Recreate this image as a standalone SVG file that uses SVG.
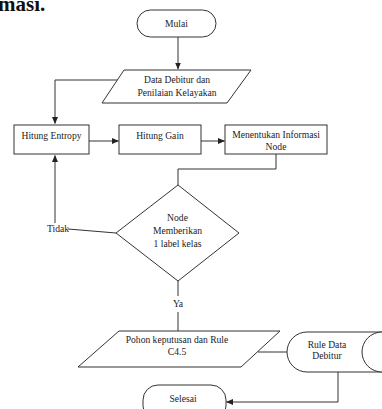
<svg xmlns="http://www.w3.org/2000/svg" width="382" height="409" viewBox="0 0 382 409">
<defs>
<marker id="ah" markerWidth="7" markerHeight="6" refX="6.5" refY="3" orient="auto" markerUnits="userSpaceOnUse">
<path d="M0,0 L7,3 L0,6 Z" fill="#222"/>
</marker>
<style>
.s{fill:#fff;stroke:#333;stroke-width:1}
.c{fill:none;stroke:#333;stroke-width:1}
text{font-family:'Liberation Serif','DejaVu Serif',serif}
.t{font-size:9.6px;fill:#222;text-anchor:middle}
.h{font-size:21px;font-weight:bold;fill:#111}
</style>
</defs>
<rect width="382" height="409" fill="#fff"/>
<text class="h" x="-2" y="11">masi.</text>

<g id="connectors">
<path class="c" d="M178,37 V69" marker-end="url(#ah)"/>
<path class="c" d="M118,80 H55 V123.5" marker-end="url(#ah)"/>
<path class="c" d="M89,141 H118.5" marker-end="url(#ah)"/>
<path class="c" d="M201,141 H224.5" marker-end="url(#ah)"/>
<path class="c" d="M276,154 V169 H178 V185"/>
<path class="c" d="M116,233 L68,229"/>
<path class="c" d="M55,223 V155.5" marker-end="url(#ah)"/>
<path class="c" d="M178,281 V296"/>
<path class="c" d="M178,312 V331"/>
<path class="c" d="M258,352 H287"/>
<path class="c" d="M338,372 V402 H226.5" marker-end="url(#ah)"/>
</g>

<g id="mulai">
<rect class="s" x="137" y="10" width="79" height="27" rx="13.5"/>
<text class="t" x="176.5" y="27">Mulai</text>
</g>

<g id="data-debitur">
<polygon class="s" points="124,70 251,70 227,103 102,103"/>
<text class="t" x="177" y="83">Data Debitur dan</text>
<text class="t" x="177" y="96">Penilaian Kelayakan</text>
</g>

<g id="hitung-entropy">
<rect class="s" x="14" y="125" width="75" height="29"/>
<text class="t" x="51.5" y="139">Hitung Entropy</text>
</g>

<g id="hitung-gain">
<rect class="s" x="119" y="125" width="82" height="29"/>
<text class="t" x="160" y="139">Hitung Gain</text>
</g>

<g id="menentukan">
<rect class="s" x="225" y="125" width="102" height="29"/>
<text class="t" x="276" y="138">Menentukan Informasi</text>
<text class="t" x="276" y="150">Node</text>
</g>

<g id="keputusan">
<polygon class="s" points="178,185 239,233 178,281 116,233"/>
<text class="t" x="177.5" y="221">Node</text>
<text class="t" x="177.5" y="234">Memberikan</text>
<text class="t" x="177.5" y="247">1 label kelas</text>
<text class="t" x="58" y="232">Tidak</text>
<text class="t" x="178" y="307">Ya</text>
</g>

<g id="pohon">
<polygon class="s" points="119,331 280,331 241,367 78,367"/>
<text class="t" x="177" y="343">Pohon keputusan dan Rule</text>
<text class="t" x="177" y="355">C4.5</text>
</g>

<g id="rule-data">
<path class="s" d="M307,332 H382 V372 H307 A20,20 0 0 1 307,332 Z"/>
<ellipse class="s" cx="382" cy="352" rx="20" ry="20"/>
<text class="t" x="327" y="348">Rule Data</text>
<text class="t" x="327" y="359">Debitur</text>
</g>

<g id="selesai">
<rect class="s" x="143" y="385" width="83" height="36" rx="15"/>
<text class="t" x="183" y="402">Selesai</text>
</g>
</svg>
